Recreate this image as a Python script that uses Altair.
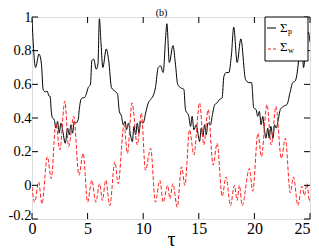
import altair as alt
import pandas as pd

# Sigma_p (black solid)
p_t = [0, 0.32, 0.63, 0.85, 1.0, 1.2, 1.35, 1.55, 1.62, 1.75, 1.85, 2.0, 2.15, 2.3, 2.45, 2.6, 2.75, 2.99,
       3.2, 3.35, 3.5, 3.65, 3.8, 3.95, 4.15, 4.25, 4.4, 4.55, 4.7, 4.87, 5.05, 5.26, 5.38, 5.55, 5.77, 5.93, 6.06,
       6.21, 6.37, 6.68, 6.9, 7.15, 7.45, 7.7, 7.85, 8.05, 8.2, 8.37, 8.5, 8.68, 8.83, 9.02, 9.17, 9.32, 9.47,
       9.62, 9.77, 10.0, 10.22, 10.46, 10.67, 10.88, 11.1, 11.35, 11.56, 11.8, 12.0, 12.13,
       12.35, 12.68, 12.9, 13.1, 13.36, 13.66, 13.8, 14.1, 14.26, 14.4, 14.56, 14.77, 14.92, 15.07, 15.22, 15.37,
       15.52, 15.67, 15.82, 16.06, 16.2, 16.44, 16.65, 16.86, 17.1, 17.25, 17.46, 17.7, 17.94, 18.14,
       18.45, 18.78, 19.2, 19.5, 19.75, 19.94, 20.15, 20.3, 20.45, 20.6, 20.75, 20.9, 21.04, 21.2, 21.33, 21.48,
       21.67, 21.82, 21.97, 22.12, 22.33, 22.63, 22.93, 23.2, 23.44, 23.67, 23.97, 24.2, 24.42, 24.57, 24.72,
       24.85, 25.0]
p_v = [0.99, 0.70, 0.78, 0.72, 0.57, 0.555, 0.56, 0.53, 0.53, 0.43, 0.40, 0.39, 0.34, 0.38, 0.31, 0.37, 0.33, 0.25,
       0.34, 0.30, 0.36, 0.31, 0.38, 0.37, 0.39, 0.45, 0.51, 0.52, 0.52, 0.54, 0.58, 0.60, 0.74, 0.75, 0.69, 0.72, 0.99,
       0.84, 0.70, 0.81, 0.74, 0.58, 0.56, 0.54, 0.44, 0.41, 0.36, 0.38, 0.33, 0.37, 0.31, 0.26, 0.35, 0.30, 0.37,
       0.31, 0.38, 0.37, 0.43, 0.49, 0.51, 0.53, 0.58, 0.70, 0.71, 0.67, 0.86, 0.96,
       0.73, 0.83, 0.72, 0.60, 0.58, 0.57, 0.45, 0.41, 0.35, 0.41, 0.33, 0.36, 0.31, 0.26, 0.34, 0.29,
       0.36, 0.30, 0.37, 0.36, 0.41, 0.48, 0.49, 0.51, 0.52, 0.645, 0.67, 0.67, 0.78, 0.94,
       0.73, 0.87, 0.63, 0.61, 0.61, 0.46, 0.45, 0.41, 0.44, 0.36, 0.41, 0.33, 0.28, 0.34, 0.28, 0.35,
       0.28, 0.36, 0.34, 0.38, 0.45, 0.47, 0.48, 0.55, 0.61, 0.62, 0.74, 0.95, 0.70, 0.78, 0.89,
       0.91, 0.85]

# Sigma_w (red dashed)
w_t = [0, 0.24, 0.6, 0.9, 1.38, 1.73, 2.15, 2.5, 2.95, 3.3, 3.75, 4.22, 4.6, 5.0, 5.38, 5.74, 6.08, 6.33,
       6.63, 7.0, 7.45, 7.75, 8.28, 8.58, 9.0, 9.47, 9.83, 10.2, 10.67, 11.1, 11.5, 11.8, 12.2, 12.4, 12.67,
       13.06, 13.45, 13.75, 14.17, 14.56, 15.07, 15.45, 15.84, 16.29, 16.65, 17.1, 17.45, 17.85, 18.2, 18.45,
       18.65, 18.9, 19.55, 19.85, 20.32, 20.63, 21.13, 21.52, 21.94, 22.42, 22.78, 23.23, 23.52, 23.91, 24.27,
       24.5, 24.72, 24.96, 25.0]
w_v = [-0.01, -0.10, 0.02, -0.11, 0.17, 0.04, 0.37, 0.21, 0.50, 0.23, 0.41, 0.06, 0.19, -0.10, 0.03, -0.10, 0.01, -0.09,
       0.03, -0.12, 0.14, 0.01, 0.36, 0.19, 0.49, 0.24, 0.43, 0.09, 0.22, -0.10, 0.03, -0.10, 0.0, -0.08, 0.01,
       -0.13, 0.11, 0.0, 0.33, 0.18, 0.49, 0.24, 0.45, 0.12, 0.25, -0.065, 0.05, -0.12, 0.0, -0.09,
       0.0, -0.12, 0.10, -0.035, 0.31, 0.17, 0.48, 0.24, 0.47, 0.16, 0.28, -0.045, 0.05, -0.12, -0.005,
       -0.06, 0.01, -0.095, -0.08]

x_ticks = [0, 5, 10, 15, 20, 25]
y_ticks = [-0.2, 0, 0.2, 0.4, 0.6, 0.8, 1.0]

W, H = 278, 202
SERIF = "Liberation Serif"

xs = alt.Scale(domain=[0, 25], nice=False, zero=False)
ys = alt.Scale(domain=[-0.2, 1.0], nice=False, zero=False)

label_expr = "datum.value < 0 ? '-' + format(-datum.value, '.1~f') : format(datum.value, '.1~f')"
x_axis = alt.Axis(values=x_ticks, title="τ", ticks=False, tickSize=0, domain=False,
                  grid=False, labelFont=SERIF, labelFontSize=16, labelColor="black",
                  labelPadding=1, labelFlush=False, labelOverlap=False,
                  labelAlign=alt.condition("datum.value == 25", alt.value("right"), alt.value("center")),
                  titleFont=SERIF, titleFontSize=20, titleFontWeight="normal",
                  titleColor="black", titleBaseline="alphabetic", titleY=26, format=".0f")
y_axis = alt.Axis(values=y_ticks, title=None, ticks=False, tickSize=0, domain=False,
                  grid=False, labelFont=SERIF, labelFontSize=14.5, labelColor="black",
                  labelPadding=1, labelFlush=False, labelOverlap=False,
                  labelOffset=alt.condition("datum.value < 0", alt.value(-4), alt.value(0)),
                  labelExpr=label_expr)

def X(field):
    return alt.X(field, scale=xs, axis=x_axis)

def Y(field):
    return alt.Y(field, scale=ys, axis=y_axis)

dp = pd.DataFrame({"t": p_t, "v": p_v})
dw = pd.DataFrame({"t": w_t, "v": w_v})

line_p = alt.Chart(dp).mark_line(color="black", strokeWidth=1, interpolate="monotone", clip=True).encode(
    x=X("t:Q"), y=Y("v:Q"))
line_w = alt.Chart(dw).mark_line(color="#ff2020", strokeWidth=1, strokeDash=[4, 2], interpolate="monotone",
                                 clip=True).encode(x=X("t:Q"), y=Y("v:Q"))

dxt = pd.DataFrame({"t": x_ticks})
dyt = pd.DataFrame({"v": y_ticks})
TL = 6
tick_b = alt.Chart(dxt).mark_rule(color="black", strokeWidth=1).encode(
    x=X("t:Q"), y=alt.value(H), y2=alt.value(H - TL))
tick_t = alt.Chart(dxt).mark_rule(color="black", strokeWidth=1).encode(
    x=X("t:Q"), y=alt.value(0), y2=alt.value(TL))
tick_l = alt.Chart(dyt).mark_rule(color="black", strokeWidth=1).encode(
    y=Y("v:Q"), x=alt.value(0), x2=alt.value(TL))
tick_r = alt.Chart(dyt).mark_rule(color="black", strokeWidth=1).encode(
    y=Y("v:Q"), x=alt.value(W), x2=alt.value(W - TL))

one = pd.DataFrame({"a": [0]})
leg_box = alt.Chart(one).mark_rect(fill="white", stroke="black", strokeWidth=1).encode(
    x=alt.value(233), x2=alt.value(276), y=alt.value(0), y2=alt.value(44))
leg_p = alt.Chart(one).mark_rule(color="black", strokeWidth=1).encode(
    x=alt.value(235), x2=alt.value(244), y=alt.value(11))
leg_w = alt.Chart(one).mark_rule(color="#ff2020", strokeWidth=1, strokeDash=[3, 2]).encode(
    x=alt.value(236), x2=alt.value(245), y=alt.value(32))

def txt(s, x, y, size, color="black"):
    return alt.Chart(one).mark_text(text=s, font=SERIF, fontSize=size, color=color, align="left",
                                    baseline="middle").encode(x=alt.value(x), y=alt.value(y))

sig_p = txt("Σ", 248, 11, 13)
sub_p = txt("p", 256, 15, 8)
sig_w = txt("Σ", 248, 30, 13)
sub_w = txt("w", 256, 34, 8)
title_b = alt.Chart(one).mark_text(text="(b)", font=SERIF, fontSize=10, color="black", align="center",
                                   baseline="alphabetic").encode(x=alt.value(129.5), y=alt.value(-1.5))

chart = alt.layer(line_p, line_w, tick_b, tick_t, tick_l, tick_r, leg_box, leg_p, leg_w,
                  sig_p, sub_p, sig_w, sub_w, title_b).properties(
    width=W, height=H,
    autosize=alt.AutoSizeParams(type="none"),
    padding={"left": 24, "top": 9, "right": 1, "bottom": 30},
).configure_view(stroke="black", strokeWidth=1).configure(background="white")

chart.save("out.html", embed_options={"renderer": "svg", "actions": False})
